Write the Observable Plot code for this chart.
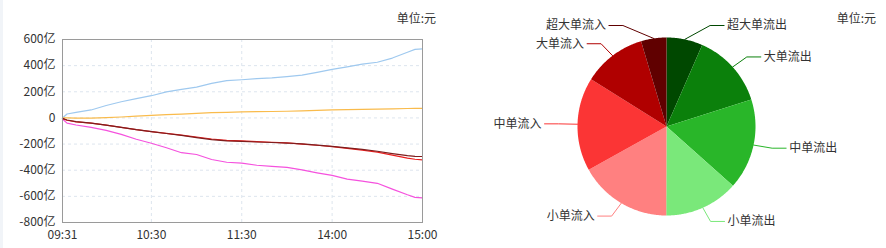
<!DOCTYPE html>
<html>
<head>
<meta charset="utf-8">
<script src="https://cdn.jsdelivr.net/npm/d3@7"></script>
<script src="https://cdn.jsdelivr.net/npm/@observablehq/plot@0.6"></script>
<style>
  html, body { margin: 0; padding: 0; background: #fff; }
  body { font-family: "Noto Sans CJK SC", "Noto Sans", sans-serif; }
  #wrap { position: relative; width: 886px; height: 248px; overflow: hidden; background: #fff; }
  #strip { position: absolute; left: 0; top: 0; width: 3px; height: 248px; background: #f1f4f8; }
  #left { position: absolute; left: 0; top: 0; }
  #right { position: absolute; left: 440px; top: 0; }
  .unit { position: absolute; top: 9px; font-size: 12px; line-height: 17px; color: #333; }
</style>
</head>
<body>
<div id="wrap">
  <div id="strip"></div>
  <div id="left"></div>
  <div id="right"></div>
  <div class="unit" style="right:450px">单位:元</div>
  <div class="unit" style="right:10px">单位:元</div>
</div>
<script>
// ---------------- data ----------------
const times = ["09:31","09:34","09:40","09:50","10:00","10:10","10:20","10:30","10:40","10:50","11:00","11:10","11:20","11:30",
               "13:10","13:20","13:30","13:40","13:50","14:00","14:10","14:20","14:30","14:40","14:50","14:55","15:00"];
// cumulative net inflow, 亿元
const mainNet   = [-8,-40,-54,-72,-95,-126,-163,-194,-228,-266,-280,-318,-339,-346,-362,-370,-378,-398,-420,-440,-468,-484,-500,-545,-588,-608,-611];
const smallNet  = [0,30,42,61,95,124,148,170,199,219,236,264,285,292,301,306,316,327,349,371,391,411,426,458,502,524,528];
const mediumNet = [0,0,-2,-2,2,7,14,20,25,29,35,40,43,46,48,49,51,54,58,61,63,66,68,70,72,73,73];
const largeNet  = [-5,-18,-30,-40,-55,-72,-90,-105,-118,-132,-146,-161,-171,-176,-182,-186,-191,-200,-209,-219,-233,-247,-262,-285,-307,-316,-321];
const superNet  = [-3,-16,-28,-40,-55,-72,-90,-105,-119,-133,-150,-166,-175,-179,-184,-188,-192,-199,-208,-217,-229,-241,-255,-273,-289,-294,-295];
const seriesNames = ["主力净流入","小单净流入","中单净流入","大单净流入","超大单净流入"];
const seriesValues = [mainNet, smallNet, mediumNet, largeNet, superNet];

const xTickLabels = ["09:31","10:30","11:30","14:00","15:00"];
const yTicks = [-800,-600,-400,-200,0,200,400,600];

const pieNames  = ["超大单流出","大单流出","中单流出","小单流出","小单流入","中单流入","大单流入","超大单流入"];
const pieValues = [990, 2040, 2480, 2030, 2540, 2560, 1730, 695];

// ---------------- styles ----------------
const seriesColors = ["#f552de","#9fc9ef","#f9bb4c","#ea1f1f","#7e1d1d"];
const pieColors = ["#004800","#0b800b","#29b629","#7ae87a","#ff8080","#fb3535","#b00000","#600000"];
const FONT = '"Noto Sans CJK SC","Noto Sans",sans-serif';

// trading minute index: 09:31 -> 0 ... 11:30 -> 119, 13:01 -> 120 ... 15:00 -> 239
function tradingIndex(t) {
  const [h, m] = t.split(":").map(Number);
  const mins = h * 60 + m;
  return mins <= 690 ? mins - 571 : mins - 661;
}

// ---------------- left: line chart ----------------
const lineRows = seriesNames.flatMap((name, k) =>
  times.map((t, i) => ({ i: tradingIndex(t), v: seriesValues[k][i], name })));
const xTickIdx = xTickLabels.map(tradingIndex);

const left = Plot.plot({
  width: 440, height: 248,
  marginLeft: 62, marginRight: 18, marginTop: 39, marginBottom: 26,
  style: { fontFamily: FONT, fontSize: "12px", color: "#333", background: "transparent" },
  x: { domain: [0, 239], ticks: xTickIdx, tickFormat: d => xTickLabels[xTickIdx.indexOf(d)], tickSize: 0, tickPadding: 8, label: null },
  y: { domain: [-800, 600], ticks: yTicks, tickFormat: d => d === 0 ? "0" : d + "亿", tickSize: 0, tickPadding: 7, label: null },
  color: { domain: seriesNames, range: seriesColors },
  marks: [
    Plot.ruleY(yTicks, { stroke: "#dde5ee", strokeDasharray: "3,3" }),
    Plot.ruleX(xTickIdx.slice(1, -1), { stroke: "#dde5ee", strokeDasharray: "3,3" }),
    Plot.line(lineRows, { x: "i", y: "v", z: "name", stroke: "name", strokeWidth: 1.2 }),
    Plot.frame({ stroke: "#9a9a9a" })
  ]
});
document.getElementById("left").appendChild(left);

// ---------------- right: pie chart ----------------
const W = 446, H = 248, CX = 226, CY = 126, RPX = 89; // layout (px)
const pie = d3.pie().sort(null).value(d => d)(pieValues);

const sliceRows = pie.flatMap((p, k) => {
  const name = pieNames[k];
  const pts = [{ x: 0, y: 0, name }];
  const n = Math.max(2, Math.ceil((p.endAngle - p.startAngle) / 0.01));
  for (let j = 0; j <= n; j++) {
    const a = p.startAngle + (p.endAngle - p.startAngle) * j / n;
    pts.push({ x: Math.sin(a), y: Math.cos(a), name });
  }
  return pts;
});

// label layout (units of radius): elbow points on an ellipse, kept inside the top edge
const RA = 108 / RPX, RB = 104 / RPX, RC = 110 / RPX, LEN2 = 14 / RPX, GAP = 3 / RPX;
const yLimit = 101 / RPX;
const labelLines = [], labelTexts = [];
pie.forEach((p, k) => {
  const name = pieNames[k];
  const a = (p.startAngle + p.endAngle) / 2;
  const dir = Math.sin(a) < 0 ? -1 : 1;
  const x1 = Math.sin(a), y1 = Math.cos(a);
  let x2 = Math.sin(a) * RA, y2 = Math.cos(a) * RB;
  if (Math.abs(y2) > yLimit) {
    y2 = Math.sign(y2) * yLimit;
    x2 = dir * Math.sqrt(RC * RC - y2 * y2);
  }
  const x3 = x2 + dir * LEN2;
  labelLines.push({ x: x1, y: y1, name, k }, { x: x2, y: y2, name, k }, { x: x3, y: y2, name, k });
  labelTexts.push({ x: x3 + dir * GAP, y: y2, name, anchor: dir < 0 ? "end" : "start" });
});

const right = Plot.plot({
  width: W, height: H,
  marginLeft: 0, marginRight: 0, marginTop: 0, marginBottom: 0,
  style: { fontFamily: FONT, fontSize: "12px", color: "#333", background: "transparent" },
  x: { domain: [-CX / RPX, (W - CX) / RPX], axis: null },
  y: { domain: [-(H - CY) / RPX, CY / RPX], axis: null },
  color: { domain: pieNames, range: pieColors },
  marks: [
    Plot.line(sliceRows, { x: "x", y: "y", z: "name", fill: "name", stroke: "none" }),
    Plot.line(labelLines, { x: "x", y: "y", z: "k", stroke: "name", strokeWidth: 1 }),
    Plot.text(labelTexts.filter(d => d.anchor === "start"), { x: "x", y: "y", text: "name", textAnchor: "start", fill: "#333", fontSize: 12 }),
    Plot.text(labelTexts.filter(d => d.anchor === "end"), { x: "x", y: "y", text: "name", textAnchor: "end", fill: "#333", fontSize: 12 })
  ]
});
document.getElementById("right").appendChild(right);
</script>
</body>
</html>
